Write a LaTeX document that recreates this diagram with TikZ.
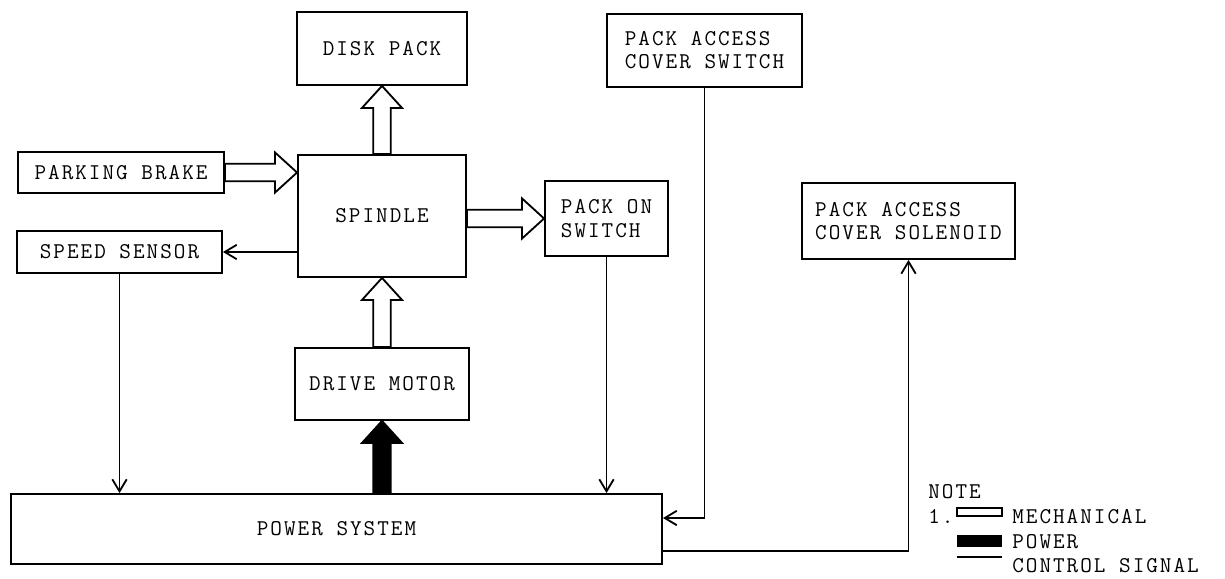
\documentclass[tikz,border=0pt]{standalone}
\usepackage{fontspec}
\setmonofont{Latin Modern Mono}[LetterSpace=9]
\usetikzlibrary{calc,arrows.meta}
\newcommand{\fatarrow}[3]{%
  \coordinate (fah) at ($(#3)!0.55cm!(#2)$);
  \draw[#1] ($(#2)!0.22cm!90:(#3)$) -- ($(fah)!0.22cm!90:(#3)$) -- ($(fah)!0.5cm!90:(#3)$) -- (#3)
    -- ($(fah)!0.5cm!-90:(#3)$) -- ($(fah)!0.22cm!-90:(#3)$) -- ($(#2)!0.22cm!-90:(#3)$) -- cycle;}

\begin{document}
\begin{tikzpicture}[x=0.025cm, y=-0.025cm,
  box/.style={draw, line width=1.3pt, font=\ttfamily\fontsize{16}{16.5}\selectfont, align=left, inner sep=0pt},
  mech/.style={draw, fill=white, line width=1.3pt, line join=miter},
  pwr/.style={draw, fill=black, line width=1.3pt, line join=miter},
  ctrl/.style={line width=1.3pt, -{Straight Barb[length=0.3cm, width=0.36cm]}},
  legtext/.style={font=\ttfamily\fontsize{16}{16.5}\selectfont, anchor=base west, inner sep=0pt}]
\useasboundingbox (0,0) rectangle (1225,579);
\node[box, minimum width=4.25cm, minimum height=1.825cm] (disk) at (382,48.5) {DISK PACK};
\node[box, minimum width=4.2cm, minimum height=3.05cm] (spindle) at (382,216) {SPINDLE};
\node[box, minimum width=5.15cm, minimum height=1.025cm] (brake) at (121,172.5) {PARKING BRAKE};
\node[box, minimum width=5.125cm, minimum height=1.05cm] (sensor) at (119.5,252) {SPEED SENSOR};
\node[box, minimum width=4.35cm, minimum height=1.8cm] (motor) at (382,384) {DRIVE MOTOR};
\node[box, minimum width=16.275cm, minimum height=1.75cm] (power) at (336.5,529) {POWER SYSTEM};
\node[box, minimum width=3.075cm, minimum height=1.875cm] (packon) at (606.5,218.5) {PACK ON\\SWITCH};
\node[box, minimum width=4.875cm, minimum height=1.825cm] (coversw) at (704.5,50.5) {PACK ACCESS\\COVER SWITCH};
\node[box, minimum width=5.325cm, minimum height=1.9cm] (solenoid) at (908.5,221) {PACK ACCESS\\COVER SOLENOID};
\coordinate (brakeend) at (brake.east -| spindle.west);
\coordinate (packonstart) at (spindle.east |- packon.west);
\coordinate (pwrstart) at (motor.south |- power.north);
\fatarrow{mech}{spindle.north}{disk.south}
\fatarrow{mech}{brake.east}{brakeend}
\fatarrow{mech}{packonstart}{packon.west}
\fatarrow{mech}{motor.north}{spindle.south}
\fatarrow{pwr}{pwrstart}{motor.south}
\draw[ctrl] (spindle.west |- sensor.east) -- (sensor.east);
\draw[ctrl] (sensor.south) -- (sensor.south |- power.north);
\draw[ctrl] (packon.south) -- (packon.south |- power.north);
\draw[ctrl] (coversw.south) |- ([yshift=0.275cm]power.east);
\draw[ctrl] ([yshift=-0.55cm]power.east) -| (solenoid.south);
\node[legtext] (note) at (928,498) {NOTE};
\node[legtext] (one) at (928,523) {1.};
\draw[line width=1.2pt] (957,508) rectangle (1002,516);
\node[legtext] (lmech) at (1012,523) {MECHANICAL};
\fill (957,535) rectangle (1002,547);
\node[legtext] (lpwr) at (1012,548) {POWER};
\draw[line width=1.2pt] (957,557) -- (1002,557);
\node[legtext] (lctl) at (1012,572) {CONTROL SIGNAL};
\end{tikzpicture}
\end{document}
